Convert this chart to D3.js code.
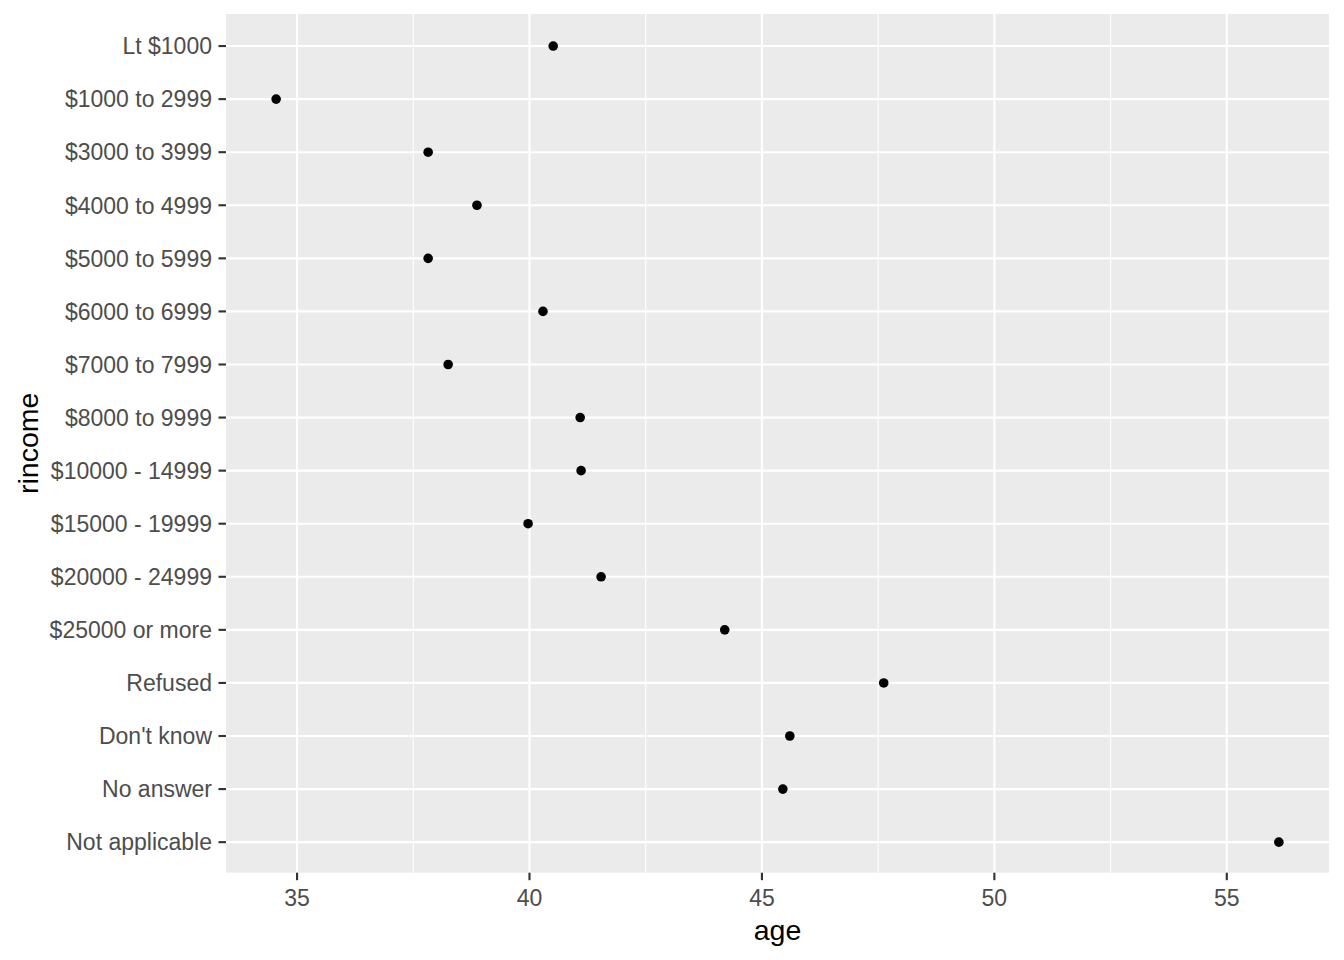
<!DOCTYPE html>
<html><head><meta charset="utf-8">
<script src="https://cdn.jsdelivr.net/npm/d3@7"></script>
<style>body{margin:0;background:#fff;} svg{display:block;}</style>
</head><body>
<svg id="c" width="1344" height="960"></svg>
<script>
const categories = ["Lt $1000","$1000 to 2999","$3000 to 3999","$4000 to 4999","$5000 to 5999","$6000 to 6999","$7000 to 7999","$8000 to 9999","$10000 - 14999","$15000 - 19999","$20000 - 24999","$25000 or more","Refused","Don't know","No answer","Not applicable"];
const ages = [40.51,34.55,37.82,38.87,37.82,40.29,38.25,41.09,41.11,39.97,41.54,44.20,47.62,45.60,45.45,56.12];
const xTicks = [35,40,45,50,55];
const xMinor = [37.5,42.5,47.5,52.5];

const svg = d3.select("#c");
const L=226, R=1329, T=14, B=872.7;
const font = "'Liberation Sans', Arial, sans-serif";

const lo = d3.min(ages), hi = d3.max(ages), pad=(hi-lo)*0.05;
const x = d3.scaleLinear().domain([lo-pad, hi+pad]).range([L,R]);
const n = categories.length;
const y = d3.scaleLinear().domain([0.4, n+0.6]).range([T+0.2,B+1.3]);
const yc = c => y(categories.indexOf(c)+1);

svg.append("rect").attr("x",L).attr("y",T).attr("width",R-L).attr("height",B-T).attr("fill","#EBEBEB");
const g = svg.append("g");
g.selectAll(".mn").data(xMinor).enter().append("line")
 .attr("x1",d=>x(d)).attr("x2",d=>x(d)).attr("y1",T).attr("y2",B)
 .attr("stroke","#fff").attr("stroke-width",1.07);
g.selectAll(".mj").data(xTicks).enter().append("line")
 .attr("x1",d=>x(d)).attr("x2",d=>x(d)).attr("y1",T).attr("y2",B)
 .attr("stroke","#fff").attr("stroke-width",2.13);
g.selectAll(".hy").data(categories).enter().append("line")
 .attr("x1",L).attr("x2",R).attr("y1",d=>yc(d)).attr("y2",d=>yc(d))
 .attr("stroke","#fff").attr("stroke-width",2.13);

svg.selectAll(".pt").data(categories).enter().append("circle")
 .attr("cx",(d,i)=>x(ages[i])).attr("cy",d=>yc(d)).attr("r",4.8).attr("fill","#000");

// x axis
const xa = svg.append("g");
xa.selectAll("line").data(xTicks).enter().append("line")
 .attr("x1",d=>x(d)).attr("x2",d=>x(d)).attr("y1",B).attr("y2",B+7.5)
 .attr("stroke","#333").attr("stroke-width",2.13);
xa.selectAll("text").data(xTicks).enter().append("text")
 .attr("x",d=>x(d)).attr("y",906).attr("text-anchor","middle")
 .attr("font-family",font).attr("font-size","23px").attr("fill","#4D4D4D").text(d=>d);
// y axis
const ya = svg.append("g");
ya.selectAll("line").data(categories).enter().append("line")
 .attr("x1",L-7.5).attr("x2",L).attr("y1",d=>yc(d)).attr("y2",d=>yc(d))
 .attr("stroke","#333").attr("stroke-width",2.13);
ya.selectAll("text").data(categories).enter().append("text")
 .attr("x",L-14).attr("y",d=>yc(d)+8.3).attr("text-anchor","end")
 .attr("font-family",font).attr("font-size","23px").attr("fill","#4D4D4D").text(d=>d);

svg.append("text").attr("x",(L+R)/2).attr("y",940).attr("text-anchor","middle")
 .attr("font-family",font).attr("font-size","28.5px").attr("fill","#000").text("age");
svg.append("text").attr("transform",`translate(38,${(T+B)/2}) rotate(-90)`).attr("text-anchor","middle")
 .attr("font-family",font).attr("font-size","28.5px").attr("fill","#000").text("rincome");
</script>
</body></html>
